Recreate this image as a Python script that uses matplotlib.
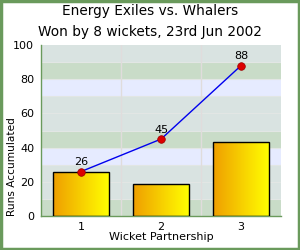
import numpy as np
import matplotlib
matplotlib.use("Agg")
import matplotlib.pyplot as plt
from matplotlib.colors import LinearSegmentedColormap
from matplotlib.patches import Rectangle

# data
partnerships = ["1", "2", "3"]
partnership_runs = [26, 19, 43]
accumulated_runs = [26, 45, 88]

title = "Energy Exiles vs. Whalers\nWon by 8 wickets, 23rd Jun 2002"

fig = plt.figure(figsize=(3.0, 2.5), dpi=100)
fig.patch.set_facecolor("white")
# green frame
fig.patches.append(Rectangle((0.004, 0.005), 0.991, 0.99, transform=fig.transFigure,
                             fill=False, edgecolor="#6a9a5c", lw=2.5))

ax = fig.add_axes([0.137, 0.136, 0.80, 0.684])

# background bands
band_cols = ["#c9dcc8", "#d9e3e1", "#d9e3e1", "#e6ebff"]
for k in range(10):
    ax.axhspan(k * 10, k * 10 + 10, color=band_cols[k % 4], lw=0, zorder=0)
for k in range(1, 10):
    ax.axhline(k * 10, color="#e2e6e4", lw=0.8, zorder=0.5)
for xv in [1.5, 2.5]:
    ax.axvline(xv, color="#e0dcdc", lw=1.0, zorder=0.5)

x = np.arange(1, len(partnerships) + 1)
cmap = LinearSegmentedColormap.from_list("oy", ["#ef9e00", "#ffff00"])
grad = np.linspace(0, 1, 256).reshape(1, -1)
bars = ax.bar(x, partnership_runs, width=0.7, facecolor="none",
              edgecolor="black", lw=1.0, zorder=3)
for b in bars:
    x0, y0 = b.get_x(), b.get_y()
    w, h = b.get_width(), b.get_height()
    im = ax.imshow(grad, cmap=cmap, extent=[x0, x0 + w, y0, y0 + h],
                   aspect="auto", zorder=2)
    im.set_clip_path(b)

ax.plot(x, accumulated_runs, color="#0000ee", lw=1.0, zorder=4)
ax.scatter(x, accumulated_runs, s=30, c="#dd0000", edgecolors="#990000",
           linewidths=0.5, zorder=5)
for xi, v in zip(x, accumulated_runs):
    ax.annotate(str(v), (xi, v), textcoords="offset points", xytext=(0, 3),
                ha="center", va="bottom", fontsize=8, zorder=6)

ax.set_xlim(0.5, 3.5)
ax.set_ylim(0, 100)
ax.set_xticks(x)
ax.set_xticklabels(partnerships)
ax.set_yticks(range(0, 101, 20))
ax.tick_params(labelsize=8, length=0)
ax.tick_params(axis="y", pad=5)
ax.tick_params(axis="x", pad=4)
for s in ["top", "right"]:
    ax.spines[s].set_visible(False)
for s in ["left", "bottom"]:
    ax.spines[s].set_color("#6a9a5c")
    ax.spines[s].set_linewidth(1.0)

ax.set_xlabel("Wicket Partnership", fontsize=8, labelpad=0)
ax.set_ylabel("Runs Accumulated", fontsize=7.6)
ax.yaxis.set_label_coords(-0.102, 0.29)
fig.text(0.5, 0.914, title, ha="center", va="center", fontsize=9.8, linespacing=1.55)

fig.savefig("out.png", dpi=100, facecolor="white")
